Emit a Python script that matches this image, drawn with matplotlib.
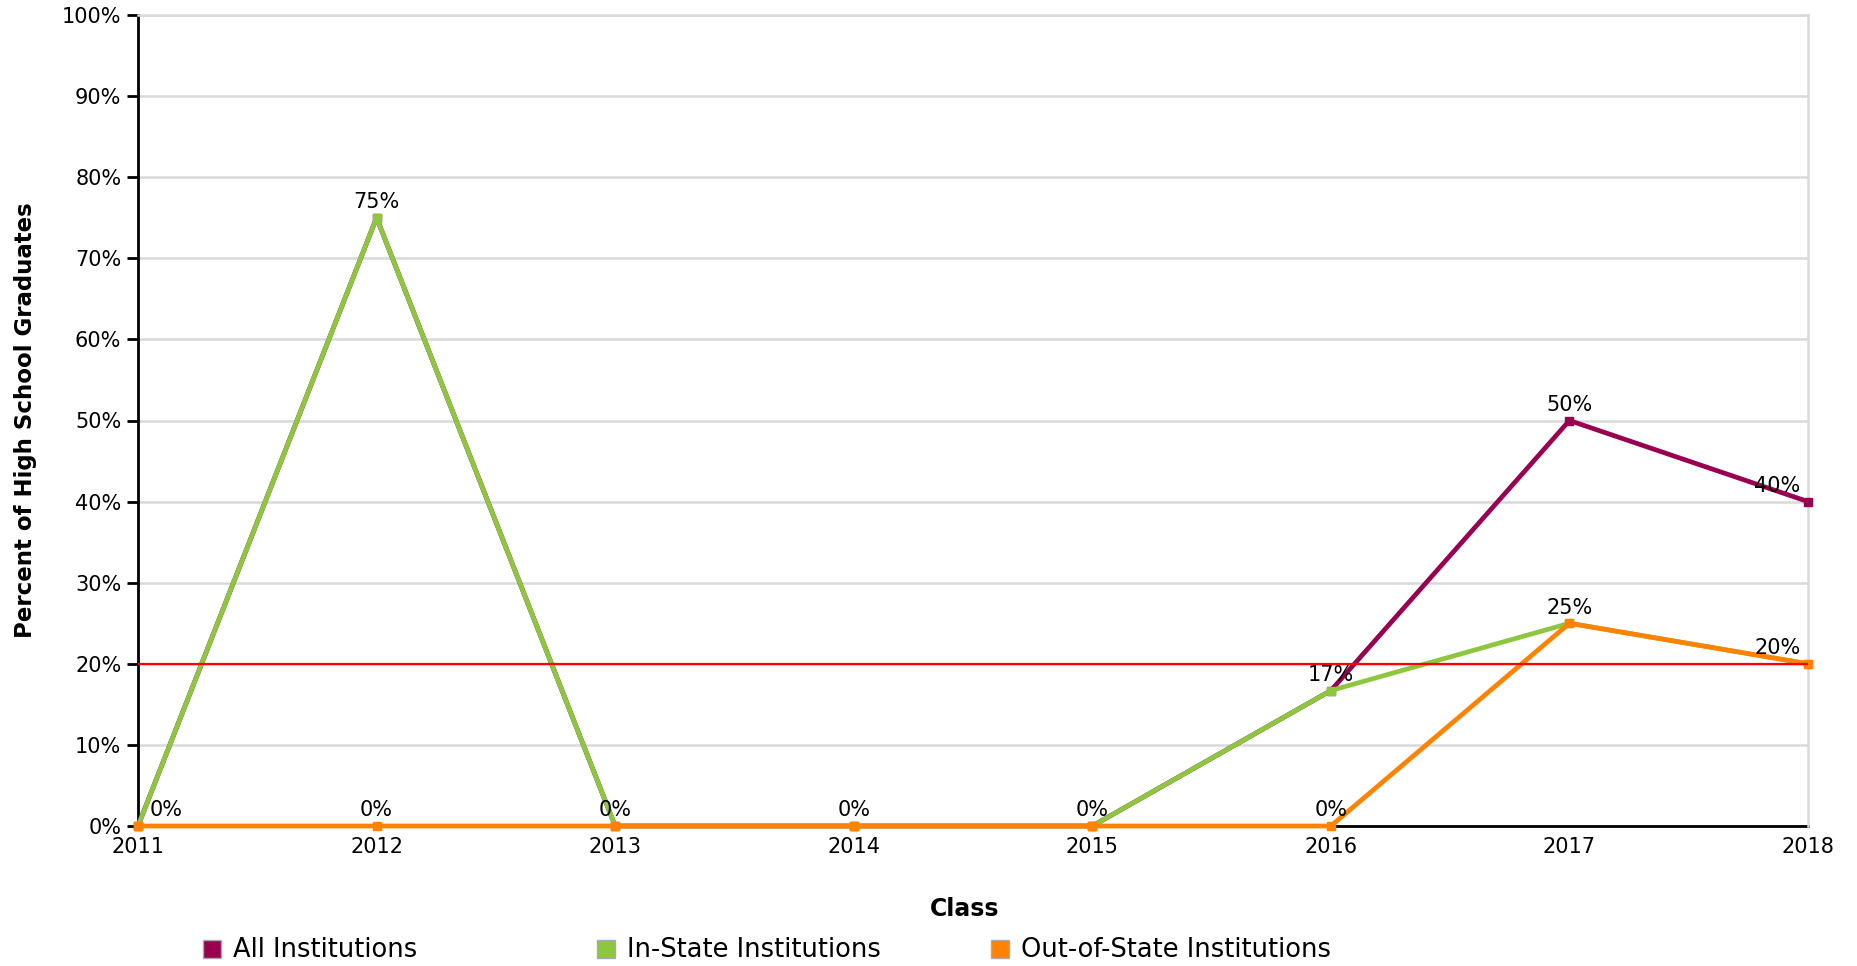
"""Percent of high school graduates by class, three institution groups."""

import matplotlib.pyplot as plt
from matplotlib.patches import Rectangle
from matplotlib.ticker import FuncFormatter, MultipleLocator

YEARS = [2011, 2012, 2013, 2014, 2015, 2016, 2017, 2018]
ALL_INSTITUTIONS = [0, 75, 0, 0, 0, 16.7, 50, 40]
IN_STATE = [0, 75, 0, 0, 0, 16.7, 25, 20]
OUT_OF_STATE = [0, 0, 0, 0, 0, 0, 25, 20]
SERIES_NAMES = ["All Institutions", "In-State Institutions", "Out-of-State Institutions"]
SERIES_COLORS = ["#990050", "#8DC63F", "#FF8300"]
TARGET_PERCENT = 20

plt.rcParams["font.family"] = ["DejaVu Sans"]

fig = plt.figure(figsize=(18.58, 9.66), dpi=100)
ax = fig.add_axes((138 / 1858, 1 - 826 / 966, 1670 / 1858, 811 / 966))

series_list = [ALL_INSTITUTIONS, IN_STATE, OUT_OF_STATE]
for values, color, name in zip(series_list, SERIES_COLORS, SERIES_NAMES):
    ax.plot(
        YEARS,
        values,
        color=color,
        linewidth=3.4,
        marker="s",
        markersize=5.5,
        label=name,
        clip_on=False,
        zorder=3,
    )

ax.axhline(TARGET_PERCENT, color="#FF0000", linewidth=1.6, zorder=4)

# data labels: one per distinct value at each year
for index, year in enumerate(YEARS):
    shown = sorted({round(values[index]) for values in series_list})
    if index == 0:
        dx = 20
    elif index == len(YEARS) - 1:
        dx = -22
    else:
        dx = 0
    for value in shown:
        exact = next(v[index] for v in series_list if round(v[index]) == value)
        ax.annotate(
            f"{value}%",
            (year, exact),
            xytext=(dx, 4),
            textcoords="offset points",
            ha="center",
            va="bottom",
            fontsize=15,
            zorder=5,
        )

ax.set_xlim(2011, 2018)
ax.set_ylim(0, 100)
ax.set_xticks(YEARS)
ax.yaxis.set_major_locator(MultipleLocator(10))
ax.yaxis.set_major_formatter(FuncFormatter(lambda v, _: f"{v:.0f}%"))
ax.tick_params(axis="y", direction="out", length=8, width=2, labelsize=15, pad=4)
ax.tick_params(axis="x", length=0, labelsize=15, pad=8)

ax.grid(axis="y", color="#D9D9D9", linewidth=1.8, zorder=0)
ax.set_axisbelow(True)
for side in ("top", "right"):
    ax.spines[side].set_color("#D9D9D9")
    ax.spines[side].set_linewidth(1.8)
for side in ("left", "bottom"):
    ax.spines[side].set_color("black")
    ax.spines[side].set_linewidth(2)
ax.spines["bottom"].set_zorder(2)

ax.set_ylabel("Percent of High School Graduates", fontsize=16.5, fontweight="bold")
ax.yaxis.set_label_coords(-0.0605, 0.5)
fig.text(965 / 1858, 1 - 909 / 966, "Class", ha="center", va="center",
         fontsize=17, fontweight="bold")

# legend with fixed column spacing
for index, (name, color) in enumerate(zip(SERIES_NAMES, SERIES_COLORS)):
    x0 = (203 + index * 394) / 1858
    fig.patches.append(Rectangle((x0, 1 - 958 / 966), 18 / 1858, 18 / 966,
                                 transform=fig.transFigure, facecolor=color,
                                 edgecolor="#AAAAAA", linewidth=1))
    fig.text(x0 + 30 / 1858, 1 - 950 / 966, name, ha="left", va="center", fontsize=18.5)

fig.savefig("out.png", dpi=100)
